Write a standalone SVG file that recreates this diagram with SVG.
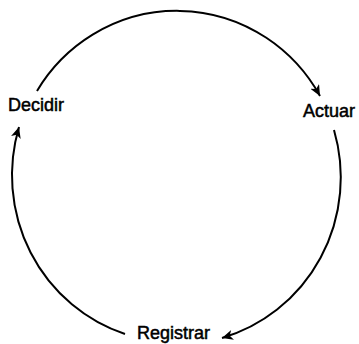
<svg xmlns="http://www.w3.org/2000/svg" width="359" height="344" viewBox="0 0 359 344">
<style>
.lbl{font-family:"Liberation Sans",Arial,sans-serif;font-size:18px;fill:#000;stroke:#000;stroke-width:0.5px}
.arc{fill:none;stroke:#000;stroke-width:2;marker-end:url(#ah)}
</style>
<defs>
<marker id="ah" markerWidth="12" markerHeight="10" refX="11" refY="5" orient="auto" markerUnits="userSpaceOnUse">
<path d="M0,0 L11,5 L0,10 L3,5 Z" fill="#000"/>
</marker>
</defs>
<rect width="359" height="344" fill="#fff"/>
<g id="connectors">
<path class="arc" d="M37,91 A164,167 0 0 1 320,96"/>
<path class="arc" d="M334,130 A164,167 0 0 1 222,338"/>
<path class="arc" d="M125,334 A164,167 0 0 1 19,127"/>
</g>
<g id="decidir"><text class="lbl" x="8" y="111">Decidir</text></g>
<g id="actuar"><text class="lbl" x="303" y="117">Actuar</text></g>
<g id="registrar"><text class="lbl" x="137" y="339">Registrar</text></g>
</svg>
